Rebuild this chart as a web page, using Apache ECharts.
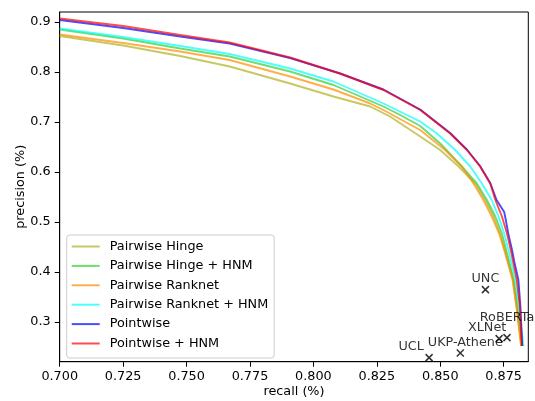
<!DOCTYPE html>
<html>
<head>
<meta charset="utf-8">
<script src="https://cdn.jsdelivr.net/npm/echarts@6/dist/echarts.min.js"></script>
<style>
html,body{margin:0;padding:0;background:#fff;}
#chart{width:535px;height:401px;}
</style>
</head>
<body>
<div id="chart"></div>
<script>
// ---- data ----
var seriesNames = ["Pairwise Hinge", "Pairwise Hinge + HNM", "Pairwise Ranknet", "Pairwise Ranknet + HNM", "Pointwise", "Pointwise + HNM"];

var pairwiseHinge = [[0.700,0.872],[0.725,0.853],[0.7475,0.832],[0.767,0.811],[0.7908,0.777],[0.8079,0.751],[0.8224,0.731],[0.8302,0.711],[0.8421,0.671],[0.850,0.644],[0.8572,0.611],[0.8638,0.577],[0.8677,0.544],[0.8710,0.511],[0.8736,0.477],[0.8755,0.444],[0.8787,0.384],[0.8801,0.331],[0.8818,0.252]];
var pairwiseHingeHNM = [[0.700,0.885],[0.725,0.867],[0.7475,0.847],[0.767,0.831],[0.7908,0.801],[0.8079,0.774],[0.8276,0.731],[0.8342,0.714],[0.8421,0.692],[0.850,0.657],[0.8585,0.611],[0.8644,0.577],[0.8684,0.544],[0.8717,0.511],[0.8743,0.477],[0.8760,0.444],[0.8790,0.384],[0.8805,0.331],[0.8824,0.252]];
var pairwiseRanknet = [[0.700,0.875],[0.725,0.858],[0.7475,0.841],[0.767,0.824],[0.7908,0.791],[0.8079,0.765],[0.8224,0.737],[0.8276,0.724],[0.8421,0.684],[0.8519,0.644],[0.8585,0.611],[0.8631,0.577],[0.8670,0.544],[0.8703,0.511],[0.8732,0.477],[0.8752,0.444],[0.8785,0.384],[0.8800,0.331],[0.8820,0.252]];
var pairwiseRanknetHNM = [[0.700,0.887],[0.725,0.870],[0.7475,0.852],[0.767,0.836],[0.7908,0.807],[0.8079,0.781],[0.8276,0.737],[0.8421,0.701],[0.8487,0.677],[0.8559,0.644],[0.8618,0.611],[0.8664,0.577],[0.8703,0.544],[0.8730,0.511],[0.8752,0.477],[0.8769,0.444],[0.8797,0.384],[0.8810,0.331],[0.8828,0.252]];
var pointwise = [[0.700,0.904],[0.725,0.888],[0.7475,0.871],[0.767,0.857],[0.7908,0.828],[0.8105,0.797],[0.8276,0.765],[0.8421,0.725],[0.8539,0.678],[0.8605,0.645],[0.8657,0.612],[0.8697,0.578],[0.8722,0.544],[0.8752,0.520],[0.8758,0.505],[0.8768,0.477],[0.8783,0.444],[0.8792,0.420],[0.8808,0.384],[0.8816,0.331],[0.8823,0.252]];
var pointwiseHNM = [[0.700,0.907],[0.725,0.892],[0.7475,0.874],[0.767,0.859],[0.7908,0.829],[0.8105,0.797],[0.8276,0.764],[0.8421,0.724],[0.8539,0.677],[0.8605,0.644],[0.8657,0.611],[0.8697,0.577],[0.8717,0.544],[0.8743,0.511],[0.8763,0.477],[0.8778,0.444],[0.8802,0.384],[0.8814,0.331],[0.8821,0.252]];

var systemNames = ["UNC", "RoBERTa", "XLNet", "UKP-Athene", "UCL"];
var systemRecall = [0.8678, 0.8763, 0.8732, 0.8579, 0.8456];
var systemPrecision = [0.3648, 0.2688, 0.2668, 0.2380, 0.2288];

var xTicks = [0.700, 0.725, 0.750, 0.775, 0.800, 0.825, 0.850, 0.875];
var yTicks = [0.3, 0.4, 0.5, 0.6, 0.7, 0.8, 0.9];

// ---- styling ----
var lineData = [pairwiseHinge, pairwiseHingeHNM, pairwiseRanknet, pairwiseRanknetHNM, pointwise, pointwiseHNM];
var lineColors = ["#b0b020", "#32cd32", "#ff8c00", "#00ffff", "#0000ff", "#ff0000"];
var labelOffsets = {"UNC":[0,-11], "RoBERTa":[0,-20], "XLNet":[-12,-11], "UKP-Athene":[5,-10], "UCL":[-18,-11]};
var FONT = "DejaVu Sans";
var FS = 12.8;

var series = lineData.map(function(d, i){
  return {
    name: seriesNames[i],
    type: 'line',
    data: d,
    symbol: 'none',
    smooth: false,
    lineStyle: {color: lineColors[i], width: 1.9, opacity: 0.7},
    itemStyle: {color: lineColors[i]},
    z: 2 + i,
    animation: false
  };
});

series.push({
  name: 'systems',
  type: 'scatter',
  symbol: 'path://M0,0L10,10M10,0L0,10',
  symbolSize: 7,
  itemStyle: {color: 'transparent', borderColor: '#000', borderWidth: 1.5},
  data: systemNames.map(function(n, i){
    return {
      name: n,
      value: [systemRecall[i], systemPrecision[i]],
      label: {show: true, position: 'inside', offset: labelOffsets[n], formatter: n,
        color: '#000', fontFamily: FONT, fontSize: FS}
    };
  }),
  z: 10,
  animation: false
});

var chart = echarts.init(document.getElementById('chart'), null, {renderer: 'canvas'});
chart.setOption({
  backgroundColor: '#fff',
  animation: false,
  textStyle: {fontFamily: FONT},
  grid: {left: 59.7, right: 6.7, top: 12, bottom: 39.3, containLabel: false, outerBoundsMode: 'none',
    show: true, borderColor: '#000', borderWidth: 1, backgroundColor: 'transparent'},
  legend: {
    data: seriesNames,
    orient: 'vertical',
    left: 66.7,
    top: 235,
    itemWidth: 28,
    itemHeight: 14,
    itemGap: 4.4,
    padding: [4, 6, 7, 4],
    backgroundColor: 'rgba(255,255,255,0.8)',
    borderColor: '#cccccc',
    borderWidth: 1,
    borderRadius: 3,
    itemStyle: {opacity: 0, color: 'transparent', borderWidth: 0},
    textStyle: {fontFamily: FONT, fontSize: FS, color: '#000', padding: [0,0,0,5], lineHeight: 15}
  },
  xAxis: {
    type: 'value',
    min: 0.700,
    max: 0.8847,
    name: 'recall (%)',
    nameLocation: 'middle',
    nameGap: 23,
    nameMoveOverlap: false,
    nameTextStyle: {fontFamily: FONT, fontSize: FS, color: '#000'},
    axisLine: {show: true, lineStyle: {color: '#000', width: 1}},
    axisTick: {show: true, length: 5, lineStyle: {color: '#000'}, customValues: xTicks},
    axisLabel: {show: true, margin: 8, color: '#000', fontFamily: FONT, fontSize: FS, customValues: xTicks,
      formatter: function(v){ return v.toFixed(3); }},
    splitLine: {show: false}
  },
  yAxis: {
    type: 'value',
    min: 0.2206,
    max: 0.92,
    name: 'precision (%)',
    nameLocation: 'middle',
    nameGap: 33,
    nameMoveOverlap: false,
    nameTextStyle: {fontFamily: FONT, fontSize: FS, color: '#000'},
    axisLine: {show: true, lineStyle: {color: '#000', width: 1}},
    axisTick: {show: true, length: 5, lineStyle: {color: '#000'}, customValues: yTicks},
    axisLabel: {show: true, margin: 9, color: '#000', fontFamily: FONT, fontSize: FS, customValues: yTicks,
      formatter: function(v){ return v.toFixed(1); }},
    splitLine: {show: false}
  },
  series: series
});
</script>
</body>
</html>
